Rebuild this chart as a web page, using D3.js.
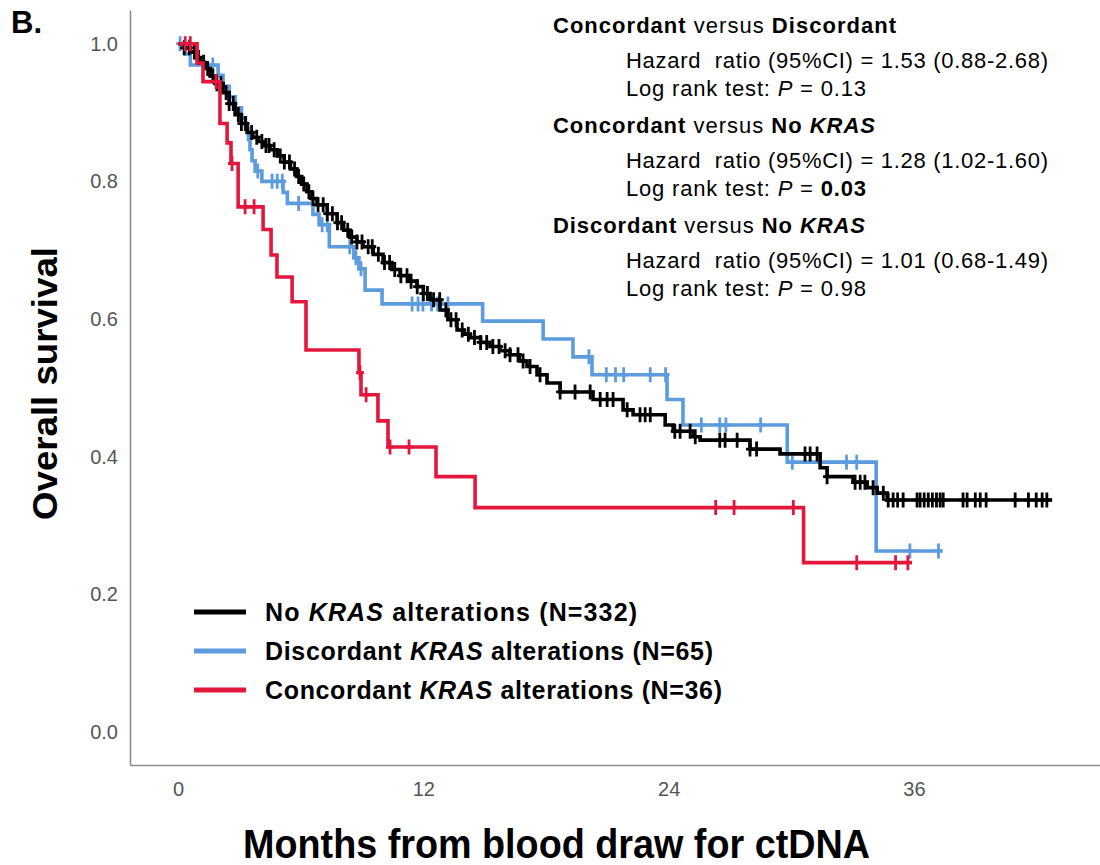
<!DOCTYPE html>
<html>
<head>
<meta charset="utf-8">
<script src="https://cdn.jsdelivr.net/npm/d3@7"></script>
<style>
  body { margin: 0; background: #fff; }
  svg { display: block; font-family: "Liberation Sans", Arial, sans-serif; }
</style>
</head>
<body>
<div id="chart"></div>
<script>
// ---- data (months, survival probability) ----
const xTicks = [0, 12, 24, 36];
const yTicks = [0, 0.2, 0.4, 0.6, 0.8, 1.0];

// No KRAS alterations (N=332)
const noKrasEvents = [[0, 1.0], [0.3, 0.994], [0.59, 0.988], [0.85, 0.980], [1.08, 0.973], [1.3, 0.964],
  [1.57, 0.953], [1.85, 0.942], [2.2, 0.929], [2.5, 0.913], [2.79, 0.897], [3.1, 0.884], [3.38, 0.871],
  [3.65, 0.864], [3.91, 0.858], [4.2, 0.852], [4.5, 0.846], [4.85, 0.837], [5.19, 0.828], [5.5, 0.818],
  [5.82, 0.807], [6.05, 0.796], [6.31, 0.785], [6.55, 0.775], [6.8, 0.766], [7.3, 0.753], [7.78, 0.740],
  [8.1, 0.729], [8.41, 0.719], [8.75, 0.712], [9.05, 0.705], [9.55, 0.694], [10.03, 0.682], [10.45, 0.672],
  [10.86, 0.663], [11.3, 0.655], [11.69, 0.647], [12.0, 0.637], [12.33, 0.628], [12.82, 0.613], [13.2, 0.599],
  [13.65, 0.584], [14.0, 0.578], [14.29, 0.573], [14.8, 0.566], [15.26, 0.560], [15.75, 0.554], [16.24, 0.548],
  [16.7, 0.539], [17.07, 0.531], [17.56, 0.519], [18.05, 0.507], [18.69, 0.494], [20.3, 0.483], [21.77, 0.468],
  [22.26, 0.461], [23.83, 0.446], [24.22, 0.437], [25.2, 0.429], [25.54, 0.424], [27.98, 0.411], [29.45, 0.404],
  [31.41, 0.384], [31.75, 0.371], [33.02, 0.363], [33.71, 0.355], [34.2, 0.347], [34.69, 0.337]];
const noKrasEnd = 42.76;
const noKrasCensors = [0.3, 0.55, 0.8, 1.0, 1.25, 1.45, 1.7, 1.9, 2.1, 2.35, 2.5, 2.7, 2.95, 3.1, 3.3, 3.6,
  3.85, 4.1, 4.3, 4.45, 4.7, 5.0, 5.2, 5.45, 5.7, 5.9, 6.15, 6.4, 6.6, 6.85, 7.1, 7.3, 7.55, 7.8, 8.0, 8.3,
  8.5, 8.75, 9.0, 9.3, 9.5, 9.8, 10.1, 10.35, 10.6, 10.9, 11.2, 11.4, 11.7, 12.0, 12.2, 12.5, 12.8, 13.1,
  13.35, 13.6, 13.9, 14.2, 14.5, 14.8, 15.1, 15.4, 15.7, 16.0, 16.24, 16.63, 16.88, 17.22, 17.71, 18.69,
  19.42, 20.16, 20.65, 20.99, 21.28, 21.97, 22.6, 22.85, 23.1, 24.3, 24.56, 25.05, 25.3, 26.5, 26.76, 27.35,
  27.98, 28.3, 30.67, 30.92, 31.26, 31.75, 33.12, 33.37, 33.6, 34.0, 34.5, 34.74, 34.98, 35.2, 35.47, 36.15,
  36.3, 36.5, 36.7, 36.9, 37.1, 37.28, 37.43, 38.4, 38.6, 39.0, 39.24, 39.53, 40.95, 41.6, 41.98, 42.27, 42.5];

// Discordant KRAS alterations (N=65)
const discordantEvents = [[0, 1.0], [0.35, 0.985], [0.6, 0.969], [1.96, 0.954], [2.2, 0.938], [2.5, 0.923],
  [2.8, 0.907], [3.1, 0.892], [3.3, 0.877], [3.45, 0.861], [3.52, 0.846], [3.62, 0.830], [3.77, 0.815],
  [4.1, 0.800], [5.14, 0.784], [5.35, 0.768], [6.6, 0.752], [6.9, 0.737], [7.4, 0.705], [8.6, 0.689],
  [8.85, 0.673], [9.15, 0.642], [9.98, 0.622], [14.9, 0.597], [17.86, 0.571], [19.32, 0.545], [20.25, 0.519],
  [23.92, 0.483], [24.7, 0.446], [29.8, 0.392], [34.15, 0.263]];
const discordantEnd = 37.4;
const discordantCensors = [0.1, 1.7, 3.9, 4.6, 4.85, 5.1, 5.9, 7.05, 7.3, 8.4, 8.7, 8.95, 11.45, 11.74, 11.98,
  12.4, 12.7, 13.2, 20.1, 20.95, 21.4, 21.8, 23.1, 23.85, 25.6, 26.5, 26.8, 28.5, 30.05, 32.7, 33.2, 35.8, 37.2];

// Concordant KRAS alterations (N=36)
const concordantEvents = [[0, 1.0], [0.93, 0.972], [1.22, 0.945], [2.05, 0.884], [2.4, 0.856], [2.59, 0.826],
  [2.94, 0.763], [4.16, 0.730], [4.55, 0.693], [4.84, 0.661], [5.58, 0.625], [6.26, 0.555], [8.85, 0.522],
  [8.95, 0.490], [9.78, 0.452], [10.27, 0.414], [12.62, 0.371], [14.53, 0.326], [30.6, 0.246]];
const concordantEnd = 35.9;
const concordantCensors = [0.35, 0.6, 1.86, 2.64, 3.28, 3.72, 8.9, 9.2, 10.37, 11.3, 26.3, 27.2, 30.1, 33.2, 35.1, 35.7];

const colors = { noKras: "#000000", discordant: "#5B9BDE", concordant: "#E3173B" };

const width = 1100, height = 865;

const svg = d3.select("#chart").append("svg")
  .attr("width", width)
  .attr("height", height);

const x = d3.scaleLinear().domain([-2.35, 45.1]).range([130, 1100]);
const y = d3.scaleLinear().domain([-0.048, 1.049]).range([765, 10]);

// axes
const yAxis = svg.append("g")
  .attr("transform", "translate(130,0)")
  .call(d3.axisLeft(y).tickValues(yTicks).tickFormat(d3.format(".1f")).tickSize(0).tickSizeOuter(0).tickPadding(12));

const xAxis = svg.append("g")
  .attr("transform", "translate(0,765)")
  .call(d3.axisBottom(x).tickValues(xTicks).tickSize(0).tickSizeOuter(0).tickPadding(17));

[xAxis, yAxis].forEach(a => {
  a.select(".domain").attr("stroke", "#8c8c8c").attr("stroke-width", 1.6);
  a.selectAll(".tick text")
    .attr("fill", "#555")
    .style("font-size", "20px")
    .style("font-family", "'Liberation Sans', Arial, sans-serif");
});

// curves
const line = d3.line()
  .x(d => x(d[0]))
  .y(d => y(d[1]))
  .curve(d3.curveStepAfter);

function survivalAt(events, t) {
  let s = events[0][1];
  for (const e of events) { if (e[0] <= t) s = e[1]; }
  return s;
}

function drawCurve(events, end, censors, color) {
  const pts = events.concat([[end, events[events.length - 1][1]]]);
  const g = svg.append("g");
  g.append("path")
    .attr("d", line(pts))
    .attr("fill", "none")
    .attr("stroke", color)
    .attr("stroke-width", 3.6);

  g.selectAll(".censor")
    .data(censors)
    .enter()
    .append("path")
    .attr("class", "censor")
    .attr("d", t => {
      const cx = x(t), cy = y(survivalAt(events, t));
      return "M" + cx + "," + (cy - 7.5) + "V" + (cy + 7.5) + "M" + (cx - 4) + "," + cy + "H" + (cx + 4);
    })
    .attr("stroke", color)
    .attr("stroke-width", 2.8);
}

drawCurve(discordantEvents, discordantEnd, discordantCensors, colors.discordant);
drawCurve(noKrasEvents, noKrasEnd, noKrasCensors, colors.noKras);
drawCurve(concordantEvents, concordantEnd, concordantCensors, colors.concordant);

// text helper: parts = [text, bold, italic]
function richText(px, py, parts, size, len) {
  const t = svg.append("text")
    .attr("x", px)
    .attr("y", py)
    .style("font-size", size + "px")
    .attr("fill", "#000")
    .attr("xml:space", "preserve");
  parts.forEach(p => {
    t.append("tspan")
      .text(p[0])
      .style("font-weight", p[1] ? "bold" : "normal")
      .style("font-style", p[2] ? "italic" : "normal");
  });
  if (len) t.attr("textLength", len).attr("lengthAdjust", "spacing");
  return t;
}

// statistics block
const stats = [
  { head: [["Concordant", 1, 0], [" versus ", 0, 0], ["Discordant", 1, 0]], headLen: 343,
    hr: "1.53 (0.88-2.68)", p: "0.13", pBold: false, y: 33 },
  { head: [["Concordant", 1, 0], [" versus ", 0, 0], ["No ", 1, 0], ["KRAS", 1, 1]], headLen: 322,
    hr: "1.28 (1.02-1.60)", p: "0.03", pBold: true, y: 133 },
  { head: [["Discordant", 1, 0], [" versus ", 0, 0], ["No ", 1, 0], ["KRAS", 1, 1]], headLen: 312,
    hr: "1.01 (0.68-1.49)", p: "0.98", pBold: false, y: 233 }
];

stats.forEach(s => {
  richText(553, s.y, s.head, 22, s.headLen);
  richText(626, s.y + 35, [["Hazard  ratio (95%CI) = " + s.hr, 0, 0]], 22, 422);
  richText(626, s.y + 63, [["Log rank test: ", 0, 0], ["P", 0, 1], [" = ", 0, 0], [s.p, s.pBold, 0]], 22, 240);
});

// legend
const legend = [
  { parts: [["No ", 1, 0], ["KRAS", 1, 1], [" alterations (N=332)", 1, 0]], color: colors.noKras, len: 372 },
  { parts: [["Discordant ", 1, 0], ["KRAS", 1, 1], [" alterations (N=65)", 1, 0]], color: colors.discordant, len: 448 },
  { parts: [["Concordant ", 1, 0], ["KRAS", 1, 1], [" alterations (N=36)", 1, 0]], color: colors.concordant, len: 457 }
];

legend.forEach((d, i) => {
  const ly = 612 + i * 39;
  svg.append("line")
    .attr("x1", 194).attr("x2", 246)
    .attr("y1", ly).attr("y2", ly)
    .attr("stroke", d.color)
    .attr("stroke-width", 5);
  richText(265, ly + 9, d.parts, 25, d.len);
});

// axis titles and panel label
svg.append("text")
  .attr("x", 243)
  .attr("y", 858)
  .attr("textLength", 627)
  .attr("lengthAdjust", "spacingAndGlyphs")
  .style("font-size", "40px")
  .style("font-weight", "bold")
  .text("Months from blood draw for ctDNA");

svg.append("text")
  .attr("transform", "translate(57,520) rotate(-90)")
  .attr("textLength", 273)
  .attr("lengthAdjust", "spacingAndGlyphs")
  .style("font-size", "35px")
  .style("font-weight", "bold")
  .text("Overall survival");

svg.append("text")
  .attr("x", 11)
  .attr("y", 33)
  .style("font-size", "31px")
  .style("font-weight", "bold")
  .text("B.");
</script>
</body>
</html>
